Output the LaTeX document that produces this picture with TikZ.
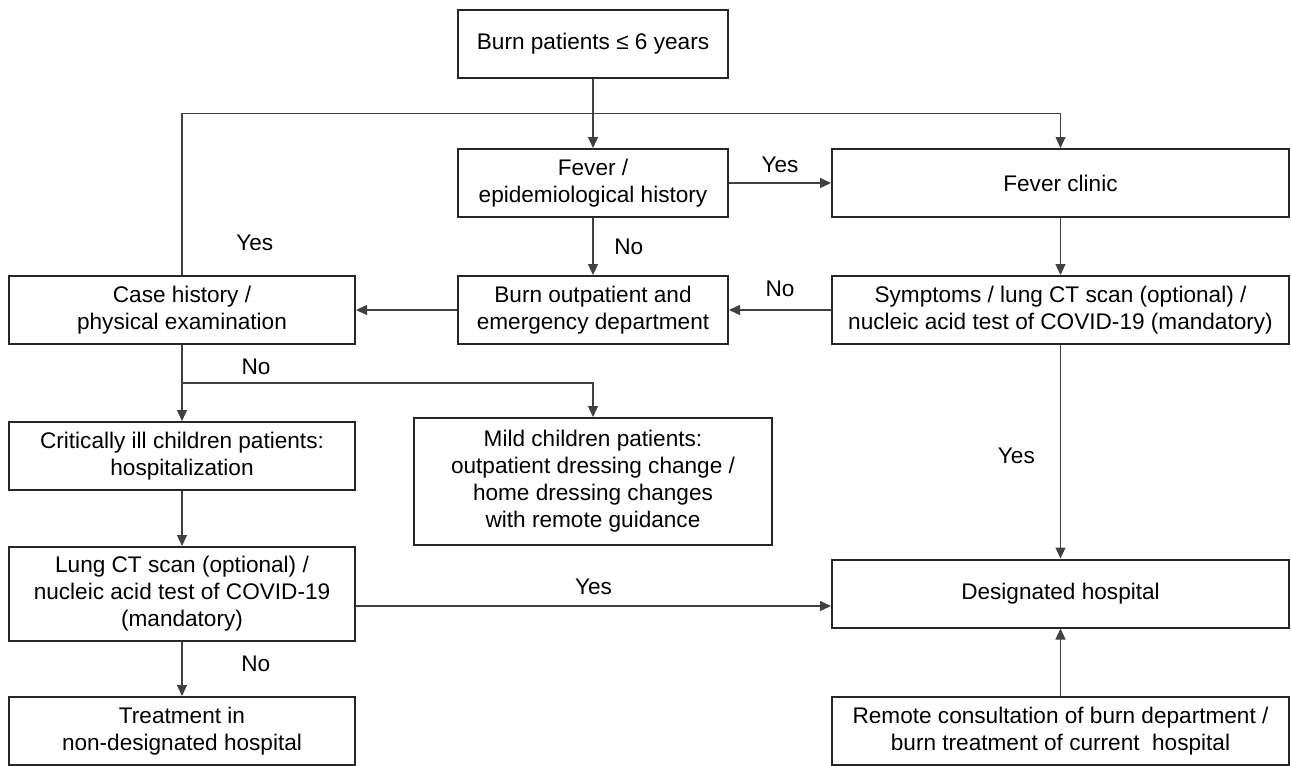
\documentclass[tikz,border=0pt]{standalone}
\usepackage{fontspec}
\setmainfont{Liberation Sans}
\usetikzlibrary{arrows.meta, positioning, calc}

\begin{document}
\begin{tikzpicture}[x=0.5pt, y=-0.5pt,
    font=\fontsize{11.3pt}{13.5pt}\selectfont,
    box/.style={draw=black!85, line width=1pt, align=center, minimum height=34pt},
    midbox/.style={box, minimum width=135pt},
    widebox/.style={box, minimum width=228.5pt},
    sidebox/.style={box, minimum width=173pt},
    conn/.style={draw=black!75, line width=0.6pt, -{Triangle[length=5.5pt, width=5pt]}}]
\useasboundingbox (0,0) rectangle (1291,766);

% Boxes
\node[midbox] (top) at (593,43.5) {Burn patients ≤ 6 years};
\node[midbox] (fever) at (593,183) {Fever /\\ epidemiological history};
\node[widebox] (clinic) at (1060.5,183) {Fever clinic};
\node[midbox] (outpat) at (593,310) {Burn outpatient and\\ emergency department};
\node[widebox] (symptoms) at (1060.5,310) {Symptoms / lung CT scan (optional) /\\ nucleic acid test of COVID-19 (mandatory)};
\node[sidebox] (casehist) at (182,310) {Case history /\\ physical examination};
\node[sidebox] (critical) at (182,456) {Critically ill children patients:\\ hospitalization};
\node[box, minimum width=179pt, minimum height=63.5pt] (mild) at (593,481.5)
    {Mild children patients:\\ outpatient dressing change /\\ home dressing changes\\ with remote guidance};
\node[sidebox, minimum height=47pt] (lungct) at (182,594)
    {Lung CT scan (optional) /\\ nucleic acid test of COVID-19\\ (mandatory)};
\node[widebox] (designated) at (1060.5,593.5) {Designated hospital};
\node[sidebox] (treatment) at (182,731) {Treatment in\\ non-designated hospital};
\node[widebox] (remote) at (1060.5,731) {Remote consultation of burn department /\\ burn treatment of current\ \ hospital};

% Split points
\coordinate (split) at ($(top.south)!0.5!(fever.north)$);
\coordinate (branch) at ($(casehist.south)!0.5!(critical.north)$);

% Arrows
\draw[conn] (top) -- (fever);
\draw[conn] (casehist.north) |- node[pos=0.1, right=23.5pt] {Yes} (split) -| (clinic.north);
\draw[conn] (fever) -- node[above=1.3pt] {Yes} (clinic);
\draw[conn] (fever) -- node[right=7pt] {No} (outpat);
\draw[conn] (clinic) -- (symptoms);
\draw[conn] (symptoms) -- node[above=3.2pt] {No} (outpat);
\draw[conn] (outpat) -- (casehist);
\draw[conn] (casehist) -- (critical);
\draw[conn] (branch) -| node[pos=0.09, above=0.7pt] {No} (mild.north);
\draw[conn] (critical) -- (lungct);
\draw[conn] ([yshift=-6pt]lungct.east) -- node[above=1.8pt] {Yes} ([yshift=-6.25pt]designated.west);
\draw[conn] (symptoms) -- node[pos=0.52, left=9.2pt] {Yes} (designated);
\draw[conn] (remote) -- (designated);
\draw[conn] (lungct) -- node[pos=0.4, right=26pt] {No} (treatment);
\end{tikzpicture}
\end{document}
